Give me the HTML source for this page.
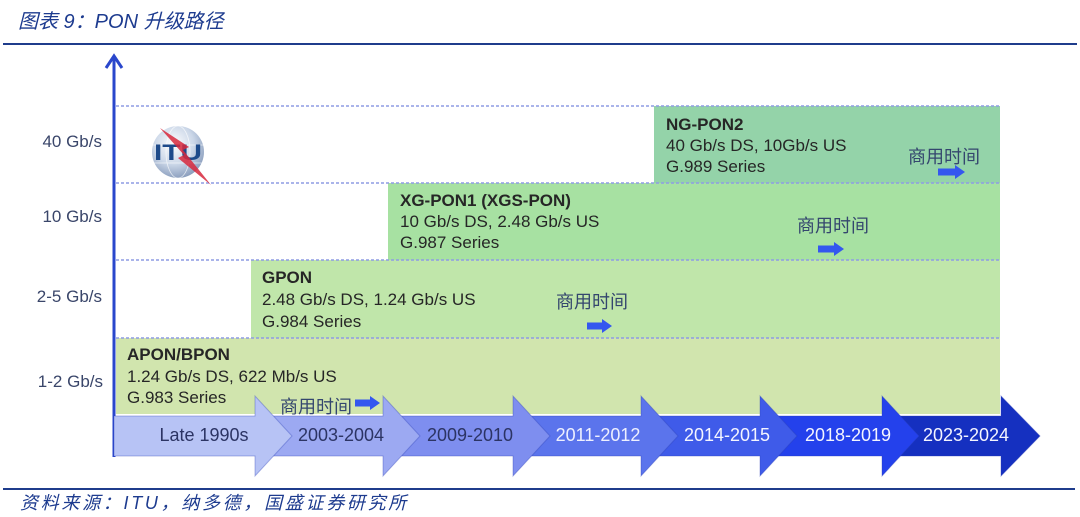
<!DOCTYPE html>
<html>
<head>
<meta charset="utf-8">
<style>
  html,body{margin:0;padding:0;background:#ffffff;}
  body{width:1080px;height:517px;overflow:hidden;position:relative;}
  svg{position:absolute;left:0;top:0;}
  .lat{font-family:"Liberation Sans","Noto Sans CJK SC",sans-serif;}
  .cjk{font-family:"Liberation Sans","Noto Sans CJK SC",sans-serif;}
</style>
</head>
<body>
<svg width="1080" height="517" viewBox="0 0 1080 517" xmlns="http://www.w3.org/2000/svg">
  <defs>
    <radialGradient id="globe" cx="42%" cy="35%" r="70%">
      <stop offset="0" stop-color="#ffffff"/>
      <stop offset="0.55" stop-color="#cbd7e8"/>
      <stop offset="1" stop-color="#8397b8"/>
    </radialGradient>
  </defs>

  <!-- Title -->
  <text x="18" y="28" font-size="20" font-style="italic" fill="#1d3b8f" class="cjk">图表 9：PON 升级路径</text>
  <line x1="3" y1="44" x2="1077" y2="44" stroke="#1f3c8c" stroke-width="2"/>

  <!-- Boxes -->
  <rect x="116" y="338" width="884" height="76" fill="#d1e5ae"/>
  <rect x="251" y="260" width="749" height="78" fill="#c0e6aa"/>
  <rect x="388" y="183" width="612" height="77" fill="#a7e1a2"/>
  <rect x="654" y="106" width="346" height="77" fill="#94d3a9"/>

  <!-- Dashed grid lines -->
  <g stroke="#8e9ce4" stroke-width="1.5" stroke-dasharray="3,2">
    <line x1="116" y1="106" x2="1000" y2="106"/>
    <line x1="116" y1="183" x2="1000" y2="183"/>
    <line x1="116" y1="260" x2="1000" y2="260"/>
    <line x1="116" y1="338" x2="1000" y2="338"/>
  </g>

  <!-- ITU logo -->
  <circle cx="178" cy="152" r="26" fill="url(#globe)"/>
  <g stroke="#ffffff" stroke-width="0.8" fill="none" opacity="0.7">
    <ellipse cx="178" cy="152" rx="12" ry="26"/>
    <line x1="152" y1="145" x2="204" y2="145"/>
    <line x1="154" y1="163" x2="202" y2="163"/>
  </g>
  <text x="154" y="160" font-size="22" font-weight="bold" fill="#1d4a8a" class="lat" textLength="48" lengthAdjust="spacingAndGlyphs">ITU</text>
  <polygon points="160,128 189,147 183,150 211,185 178,158 184,155" fill="#d7283c" opacity="0.85"/>

  <!-- Y axis -->
  <line x1="114" y1="57" x2="114" y2="457" stroke="#2a47cc" stroke-width="3"/>
  <polyline points="106,68 114,56 122,68" fill="none" stroke="#2a47cc" stroke-width="3" stroke-linejoin="miter"/>

  <!-- Y labels -->
  <g font-size="17" fill="#3a466a" class="lat" text-anchor="end">
    <text x="102" y="147">40 Gb/s</text>
    <text x="102" y="222">10 Gb/s</text>
    <text x="102" y="302">2-5 Gb/s</text>
    <text x="103" y="387">1-2 Gb/s</text>
  </g>

  <!-- Box texts -->
  <g font-size="17" fill="#262626" class="lat">
    <text x="666" y="130" font-weight="bold">NG-PON2</text>
    <text x="666" y="151">40 Gb/s DS, 10Gb/s US</text>
    <text x="666" y="172">G.989 Series</text>

    <text x="400" y="206" font-weight="bold">XG-PON1 (XGS-PON)</text>
    <text x="400" y="227">10 Gb/s DS, 2.48 Gb/s US</text>
    <text x="400" y="248">G.987 Series</text>

    <text x="262" y="283" font-weight="bold">GPON</text>
    <text x="262" y="305">2.48 Gb/s DS, 1.24 Gb/s US</text>
    <text x="262" y="327">G.984 Series</text>

    <text x="127" y="360" font-weight="bold">APON/BPON</text>
    <text x="127" y="382">1.24 Gb/s DS, 622 Mb/s US</text>
    <text x="127" y="403">G.983 Series</text>
  </g>

  <!-- Timeline arrows -->
  <g stroke="rgba(40,60,180,0.35)" stroke-width="1">
    <polygon points="882,416 1001,416 1001,396 1040,436 1001,476 1001,456 882,456" fill="#1530c0"/>
    <polygon points="760,416 882,416 882,396 919,436 882,476 882,456 760,456" fill="#2441ec"/>
    <polygon points="641,416 760,416 760,396 797,436 760,476 760,456 641,456" fill="#3f5be9"/>
    <polygon points="513,416 641,416 641,396 678,436 641,476 641,456 513,456" fill="#5b74ec"/>
    <polygon points="383,416 513,416 513,396 550,436 513,476 513,456 383,456" fill="#7e8eef"/>
    <polygon points="255,416 383,416 383,396 420,436 383,476 383,456 255,456" fill="#9ca9f2"/>
    <polygon points="114,416 255,416 255,396 292,436 255,476 255,456 114,456" fill="#b7c3f5"/>
  </g>
  <g font-size="18" class="lat" text-anchor="middle">
    <text x="204" y="441" fill="#2c3464">Late 1990s</text>
    <text x="341" y="441" fill="#2c3464">2003-2004</text>
    <text x="470" y="441" fill="#2c3464">2009-2010</text>
    <text x="598" y="441" fill="#eef0ff">2011-2012</text>
    <text x="727" y="441" fill="#f4f5ff">2014-2015</text>
    <text x="848" y="441" fill="#f4f5ff">2018-2019</text>
    <text x="966" y="441" fill="#f4f5ff">2023-2024</text>
  </g>

  <!-- 商用时间 labels -->
  <g font-size="18" fill="#34466e" class="cjk">
    <text x="908" y="163">商用时间</text>
    <text x="797" y="232">商用时间</text>
    <text x="556" y="308">商用时间</text>
    <text x="280" y="413">商用时间</text>
  </g>
  <g fill="#3457ef">
    <polygon points="938,168.5 955,168.5 955,165 965,172 955,179 955,175.5 938,175.5"/>
    <polygon points="818,245.5 834,245.5 834,242 844,249 834,256 834,252.5 818,252.5"/>
    <polygon points="587,322.5 602,322.5 602,319 612,326 602,333 602,329.5 587,329.5"/>
    <polygon points="355,399.5 370,399.5 370,396 380,403 370,410 370,406.5 355,406.5"/>
  </g>

  <!-- Footer -->
  <line x1="3" y1="489" x2="1075" y2="489" stroke="#1f3c8c" stroke-width="2"/>
  <text x="20" y="509" font-size="18" font-style="italic" fill="#1d3b8f" class="cjk" letter-spacing="2.7">资料来源：ITU，纳多德，国盛证券研究所</text>
</svg>
</body>
</html>
